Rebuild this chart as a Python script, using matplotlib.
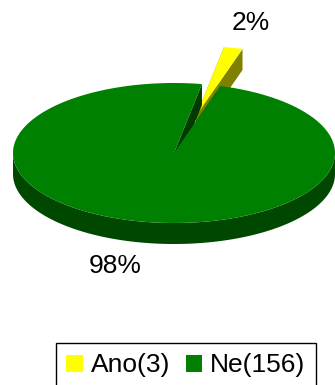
import numpy as np
import matplotlib
matplotlib.use("Agg")
import matplotlib.pyplot as plt
from matplotlib.patches import Polygon, Patch

categories = ["Ano(3)", "Ne(156)"]
counts = [3, 156]
pct_labels = ["2%", "98%"]
colors_top = ["#FFFF00", "#008000"]
colors_side = ["#808000", "#004800"]
colors_cut = ["#9A9A00", "#003C00"]

plt.rcParams['font.family'] = ['Liberation Sans', 'DejaVu Sans']

W, H = 335, 385
fig = plt.figure(figsize=(W / 100, H / 100), dpi=100)
ax = fig.add_axes([0, 0, 1, 1])
ax.set_xlim(0, W)
ax.set_ylim(H, 0)
ax.axis("off")

# layout of the pseudo-3D pie (screen units, y downward)
cx, cy, rx, ry, depth = 174, 153, 161, 70, 21
start = 80.0  # degrees, first slice boundary, slices go clockwise
explode_off = [(22, -37), (0, 0)]

total = float(sum(counts))
fracs = [c / total for c in counts]
bounds = []
a = start
for f in fracs:
    bounds.append((a, a - 360 * f))
    a -= 360 * f


def rim(theta_deg, ox=0, oy=0, dz=0):
    t = np.radians(theta_deg)
    return (cx + ox + rx * np.cos(t), cy + oy - ry * np.sin(t) + dz)


def arc(a0, a1, ox=0, oy=0, dz=0, n=200):
    ts = np.linspace(a0, a1, n)
    return [rim(t, ox, oy, dz) for t in ts]

# --- exploded small slice (behind) ---
a0, a1 = bounds[0]
ox, oy = explode_off[0]
apex = (cx + ox, cy + oy)
apex_d = (cx + ox, cy + oy + depth)
ax.add_patch(Polygon([apex, rim(a0, ox, oy), rim(a0, ox, oy, depth), apex_d],
                     closed=True, facecolor=colors_cut[0], edgecolor="none", zorder=1))
ax.add_patch(Polygon([apex, rim(a1, ox, oy), rim(a1, ox, oy, depth), apex_d],
                     closed=True, facecolor=colors_side[0], edgecolor="none", zorder=2))
ax.add_patch(Polygon([apex] + arc(a0, a1, ox, oy), closed=True,
                     facecolor=colors_top[0], edgecolor="none", zorder=3))

# --- big slice ---
b0, b1 = bounds[1]
cen = (cx, cy)
cen_d = (cx, cy + depth)
ax.add_patch(Polygon([cen, rim(b0), rim(b0, dz=depth), cen_d], closed=True,
                     facecolor=colors_side[1], edgecolor="none", zorder=4))
ax.add_patch(Polygon([cen, rim(start), rim(start, dz=depth), cen_d], closed=True,
                     facecolor=colors_cut[1], edgecolor="none", zorder=4))
front = arc(-180, 0) + arc(0, -180, dz=depth)
ax.add_patch(Polygon(front, closed=True, facecolor=colors_side[1],
                     edgecolor="none", zorder=5))
ax.add_patch(Polygon([cen] + arc(b0, b1), closed=True,
                     facecolor=colors_top[1], edgecolor="none", zorder=6))

# percentage labels
ax.text(251, 23, pct_labels[0], fontsize=19, ha="center", va="center", zorder=10)
ax.text(115, 266, pct_labels[1], fontsize=19, ha="center", va="center", zorder=10)

handles = [Patch(facecolor=colors_top[i], edgecolor="none") for i in range(2)]
leg = ax.legend(handles, categories, loc="lower right", ncol=2,
                bbox_to_anchor=(316 / W, -3 / H), fontsize=19, frameon=True,
                fancybox=False, edgecolor="black", framealpha=1,
                handlelength=0.62, handleheight=0.62, handletextpad=0.3,
                columnspacing=0.6, borderpad=0.4, borderaxespad=0)
leg.get_frame().set_linewidth(1.0)

fig.savefig("out.png", dpi=100)
